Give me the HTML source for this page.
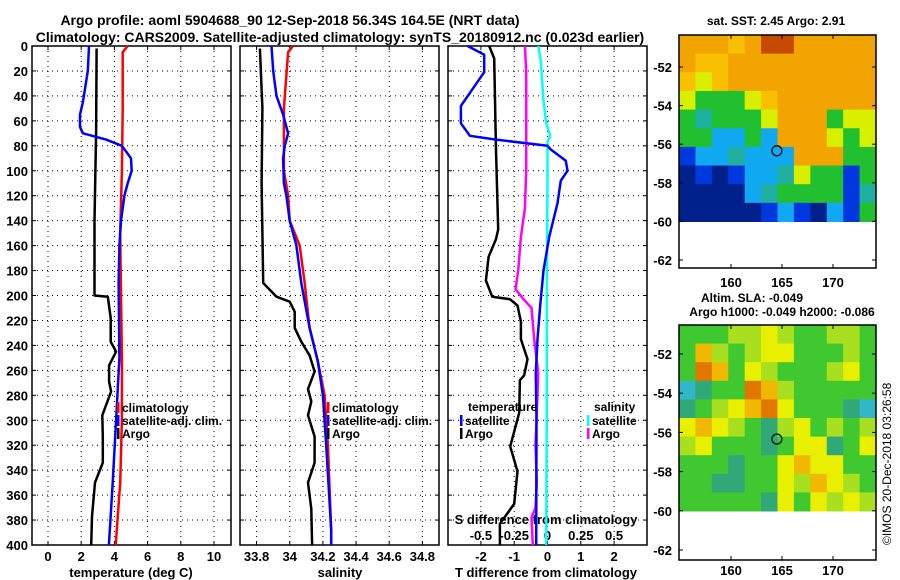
<!DOCTYPE html>
<html><head><meta charset="utf-8"><style>
body{margin:0;background:#fff}
svg{display:block;font-family:"Liberation Sans",sans-serif;font-weight:bold}
</style></head><body>
<svg id="c" width="900" height="580" xmlns="http://www.w3.org/2000/svg">
<text x="290" y="25" font-size="14" text-anchor="middle">Argo profile: aoml 5904688_90 12-Sep-2018 56.34S 164.5E (NRT data)</text>
<text x="340" y="42" font-size="14" text-anchor="middle">Climatology: CARS2009. Satellite-adjusted climatology: synTS_20180912.nc (0.023d earlier)</text>
<text x="776" y="25" font-size="12" text-anchor="middle">sat. SST: 2.45 Argo: 2.91</text>
<text x="752" y="302" font-size="12" text-anchor="middle">Altim. SLA: -0.049</text>
<text x="782" y="316" font-size="12" text-anchor="middle">Argo h1000: -0.049 h2000: -0.086</text>
<text transform="translate(891,545) rotate(-90)" font-size="12" font-weight="normal">©IMOS 20-Dec-2018 03:26:58</text>
</svg>
<script>
// ---- data ----
var depthTicks=[0,20,40,60,80,100,120,140,160,180,200,220,240,260,280,300,320,340,360,380,400];
var tTicks=[0,2,4,6,8,10];
var sTicks=[33.8,34,34.2,34.4,34.6,34.8];
var sTickLabels=["33.8","34","34.2","34.4","34.6","34.8"];
var dTTicks=[-2,-1,0,1,2];
var dSTicks=[-0.5,-0.25,0,0.25,0.5];
var dSTickLabels=["-0.5","-0.25","0","0.25","0.5"];
// temperature panel
var tRedD=[0,5,50,100,150,200,250,300,350,400];
var tRedV=[4.8,4.5,4.5,4.45,4.35,4.4,4.45,4.45,4.35,4.08];
var tBlkD=[2,70,140,200,201,218,237,245,256,269,277,296,313,334,350,377,400];
var tBlkV=[2.93,2.9,2.8,2.8,3.6,3.78,3.78,4.1,3.68,3.68,3.8,3.27,3.3,3.3,2.83,2.65,2.6];
var tBluD=[0,20,45,55,65,70,75,80,90,100,110,120,140,160,190,250,300,350,400];
var tBluV=[2.47,2.4,2.1,1.93,1.93,2.1,3.5,4.45,5.0,5.04,4.8,4.6,4.4,4.3,4.25,4.3,4.1,3.9,3.67];
// salinity panel
var sRedD=[0,5,50,100,120,140,160,190,226,253,280,320,388,400];
var sRedV=[34.02,33.99,33.965,33.965,33.99,34.0,34.06,34.09,34.12,34.17,34.21,34.23,34.25,34.25];
var sBlkD=[2,50,110,190,201,205,213,226,237,248,261,275,285,296,313,334,350,371,400];
var sBlkV=[33.82,33.835,33.83,33.84,33.92,34.0,34.03,34.03,34.07,34.12,34.15,34.11,34.13,34.11,34.15,34.15,34.11,34.13,34.135];
var sBluD=[0,20,40,55,70,80,90,110,120,140,160,190,226,253,280,320,388,400];
var sBluV=[33.89,33.9,33.92,33.96,33.99,33.97,33.96,33.965,33.98,34.0,34.04,34.07,34.12,34.17,34.2,34.22,34.25,34.25];
// difference panel
var dTBluD=[0,7,21,48,62,72,75,80,83,92,100,108,126,153,180,208,235,262,300,400];
var dTBluV=[-2.4,-1.9,-1.9,-2.6,-2.6,-2.33,-1.55,0,0.1,0.55,0.6,0.4,0.3,0.05,-0.12,-0.22,-0.3,-0.35,-0.33,-0.34];
var dTBlkD=[0,10,80,130,147,155,169,188,201,203,208,221,235,251,264,268,294,321,341,367,383,400];
var dTBlkV=[-1.75,-1.6,-1.55,-1.5,-1.48,-1.55,-1.77,-1.85,-1.66,-1.13,-0.9,-0.8,-0.8,-0.6,-0.7,-0.83,-0.85,-1.12,-0.9,-1.0,-1.43,-1.43];
var dSMagD=[0,20,100,130,153,180,195,203,210,235,262,294,320,350,370,378,400];
var dSMagV=[-0.17,-0.16,-0.16,-0.17,-0.2,-0.22,-0.24,-0.18,-0.12,-0.1,-0.07,-0.08,-0.09,-0.08,-0.09,-0.12,-0.11];
var dSCyaD=[0,12,44,62,72,77,100,200,300,400];
var dSCyaV=[-0.07,-0.05,-0.03,-0.01,0.02,0.0,0.0,-0.005,-0.006,-0.01];
// maps (colour codes per cell, 12 cols x 10 rows)
var sstGrid=["OOOoODDOOOOO","OooOOOOOOOOO","oYoOOOOOOOOO","YGGGYoOOOOOO","GTGGGYOOOGYY","GGCCGCOOOYGY","BCCTCCCOOOGG","NBNBCCTYGGBG","NNNNCTGGGGBT","NNNNNBCBNCBG"];
var slaGrid=["gggllylggllg","golglyyggglg","grogylggglyg","ctggrolggggg","tglyorygggtc","yoylgtlyglgl","lygggtgyytgy","gggtggyoyygg","ggttggyloylg","gggggtygylyl"];
var palette={D:"#c84a00",O:"#f2a400",o:"#f8c000",Y:"#d8f000",G:"#20c030",T:"#20b0a0",C:"#10a8f0",B:"#0038e0",N:"#00208c",g:"#40c830",y:"#e8f000",o2:"#f0b800",r:"#e07800",t:"#30a878",l:"#a8e020",c:"#30b8c8"};
</script>
<script>
var svg=document.getElementById('c');
var NS="http://www.w3.org/2000/svg";
function mk(tag,attrs,parent){var e=document.createElementNS(NS,tag);for(var k in attrs)e.setAttribute(k,attrs[k]);(parent||svg).appendChild(e);return e;}
var Y0=46,Y1=545;
function yD(d){return Y0+d*(Y1-Y0)/400;}
var panels=[{x0:32,x1:231,name:'temperature-panel'},{x0:240,x1:439,name:'salinity-panel'},{x0:448,x1:647,name:'difference-panel'}];
function xT(v){return 48+v*16.6;}
function xS(v){return 240+(v-33.7)*165.8;}
function xdT(v){return 547.5+v*33.3;}
function xdS(v){return 547.5+v*133.2;}
var vgrid=[tTicks.map(xT),sTicks.map(xS),dTTicks.map(xdT)];
panels.forEach(function(p,i){
  var g=mk('g',{});
  
  
  depthTicks.forEach(function(d){
    var l=mk('line',{x1:p.x0,x2:p.x1,y1:yD(d),y2:yD(d),stroke:'#000','stroke-width':1,'stroke-dasharray':'1,4'},g);
    
    
    mk('line',{x1:p.x0,x2:p.x0+4,y1:yD(d),y2:yD(d),stroke:'#000'},g);
    mk('line',{x1:p.x1-4,x2:p.x1,y1:yD(d),y2:yD(d),stroke:'#000'},g);
  });
  vgrid[i].forEach(function(x){
    var l=mk('line',{x1:x,x2:x,y1:Y0,y2:Y1,stroke:'#000','stroke-width':1,'stroke-dasharray':'1,4'},g);
    
    
    mk('line',{x1:x,x2:x,y1:Y1-4,y2:Y1,stroke:'#000'},g);
    mk('line',{x1:x,x2:x,y1:Y0,y2:Y0+4,stroke:'#000'},g);
  });
  var r=mk('rect',{x:p.x0,y:Y0,width:p.x1-p.x0,height:Y1-Y0,fill:'none',stroke:'#000','stroke-width':1.5},g);
  
  
});
depthTicks.forEach(function(d){
  var t=mk('text',{x:28,y:yD(d)+5,'font-size':13,'text-anchor':'end'});
  t.textContent=d;
  
  
});
function xlab(arr,labels,fx,y,name){arr.forEach(function(v,i){var t=mk('text',{x:fx(v),y:y,'font-size':13,'text-anchor':'middle'});t.textContent=labels?labels[i]:v;
  
  });}
xlab(tTicks,null,xT,561,'temperature-tick-label');
xlab(sTicks,sTickLabels,xS,561,'salinity-tick-label');
xlab(dTTicks,null,xdT,561,'t-difference-tick-label');
xlab(dSTicks,dSTickLabels,xdS,540,'s-difference-tick-label');
function title(x,y,s,name){var t=mk('text',{x:x,y:y,'font-size':13,'text-anchor':'middle'});t.textContent=s;
  
  }
title(131,577,'temperature (deg C)','x-axis-title-temperature');
title(340,577,'salinity','x-axis-title-salinity');
title(546,577,'T difference from climatology','x-axis-title-t-difference');
title(546,524,'S difference from climatology','s-difference-axis-title');
function line(D,V,fx,col,w,name){var pts=D.map(function(d,i){return fx(V[i]).toFixed(1)+','+yD(d).toFixed(1);}).join(' ');
  var l=mk('polyline',{points:pts,fill:'none',stroke:col,'stroke-width':w,'stroke-linejoin':'round'});
  
  }
line(tBlkD,tBlkV,xT,'#000',2.5,'temp-argo-line');
line(tRedD,tRedV,xT,'#f00',2.5,'temp-climatology-line');
line(tBluD,tBluV,xT,'#00f',2.5,'temp-satellite-adj-line');
line(sBlkD,sBlkV,xS,'#000',2.5,'sal-argo-line');
line(sRedD,sRedV,xS,'#f00',2.5,'sal-climatology-line');
line(sBluD,sBluV,xS,'#00f',2.5,'sal-satellite-adj-line');
line(dSCyaD,dSCyaV,xdS,'#0ff',2.5,'s-diff-satellite-line');
line(dSMagD,dSMagV,xdS,'#f0f',2.5,'s-diff-argo-line');
line(dTBlkD,dTBlkV,xdT,'#000',2.5,'t-diff-argo-line');
line(dTBluD,dTBluV,xdT,'#00f',2.5,'t-diff-satellite-line');
function leg(x,y,col,s,name){var g=mk('g',{});
  
  
  mk('rect',{x:x,y:y-10,width:2.5,height:11,fill:col},g);var t=mk('text',{x:x+5,y:y,'font-size':12},g);t.textContent=s;}
leg(117,412,'#f00','climatology','legend-climatology');
leg(117,425,'#00f','satellite-adj. clim.','legend-satellite-adj');
leg(117,438,'#000','Argo','legend-argo');
leg(327,412,'#f00','climatology','legend-climatology-sal');
leg(327,425,'#00f','satellite-adj. clim.','legend-satellite-adj-sal');
leg(327,438,'#000','Argo','legend-argo-sal');
var lt=mk('text',{x:468,y:411,'font-size':12});lt.textContent='temperature';


leg(460,425,'#00f','satellite','legend-t-satellite');
leg(460,438,'#000','Argo','legend-t-argo');
var ls=mk('text',{x:594,y:411,'font-size':12});ls.textContent='salinity';


leg(587,425,'#0ff','satellite','legend-s-satellite');
leg(587,438,'#f0f','Argo','legend-s-argo');
// maps
function map(grid,codes,fy0,fyEnd,top,latScale,lat52y,name,labY){
  var g=mk('g',{});
  
  
  var x0=679,x1=876,cols=12,rows=grid.length,cw=(x1-x0)/cols,ch=(fyEnd-top)/rows;
  for(var r=0;r<rows;r++)for(var c=0;c<cols;c++){var k=grid[r][c];var col=codes(k);
    mk('rect',{x:x0+c*cw,y:top+r*ch,width:cw+0.5,height:ch+0.5,fill:col},g);}
  mk('rect',{x:x0,y:top,width:x1-x0,height:fy0-top,fill:'none',stroke:'#000','stroke-width':1.5},g);
  [-52,-54,-56,-58,-60,-62].forEach(function(l){var y=lat52y+(-52-l)*latScale;
    mk('line',{x1:x0,x2:x0+4,y1:y,y2:y,stroke:'#000'},g);mk('line',{x1:x1-4,x2:x1,y1:y,y2:y,stroke:'#000'},g);
    var t=mk('text',{x:672,y:y+5,'font-size':13,'text-anchor':'end'},g);t.textContent=l;});
  [160,165,170].forEach(function(l){var x=731+(l-160)*10.2;
    mk('line',{x1:x,x2:x,y1:fy0-4,y2:fy0,stroke:'#000'},g);mk('line',{x1:x,x2:x,y1:top,y2:top+4,stroke:'#000'},g);
    var t=mk('text',{x:x,y:labY,'font-size':13,'text-anchor':'middle'},g);t.textContent=l;});
  var lat=-56.34,lon=164.5;
  var m=mk('circle',{cx:731+(lon-160)*10.2,cy:lat52y+(-52-lat)*latScale,r:5,fill:'none',stroke:'#000','stroke-width':1.2},g);
  
  
}
map(sstGrid,function(k){return palette[k];},268,221.5,35,19.3,67,'sst-map',287);
map(slaGrid,function(k){return k==='o'?palette.o2:palette[k];},560,511,325,19.6,354,'sla-map',575);
</script>
</body></html>
